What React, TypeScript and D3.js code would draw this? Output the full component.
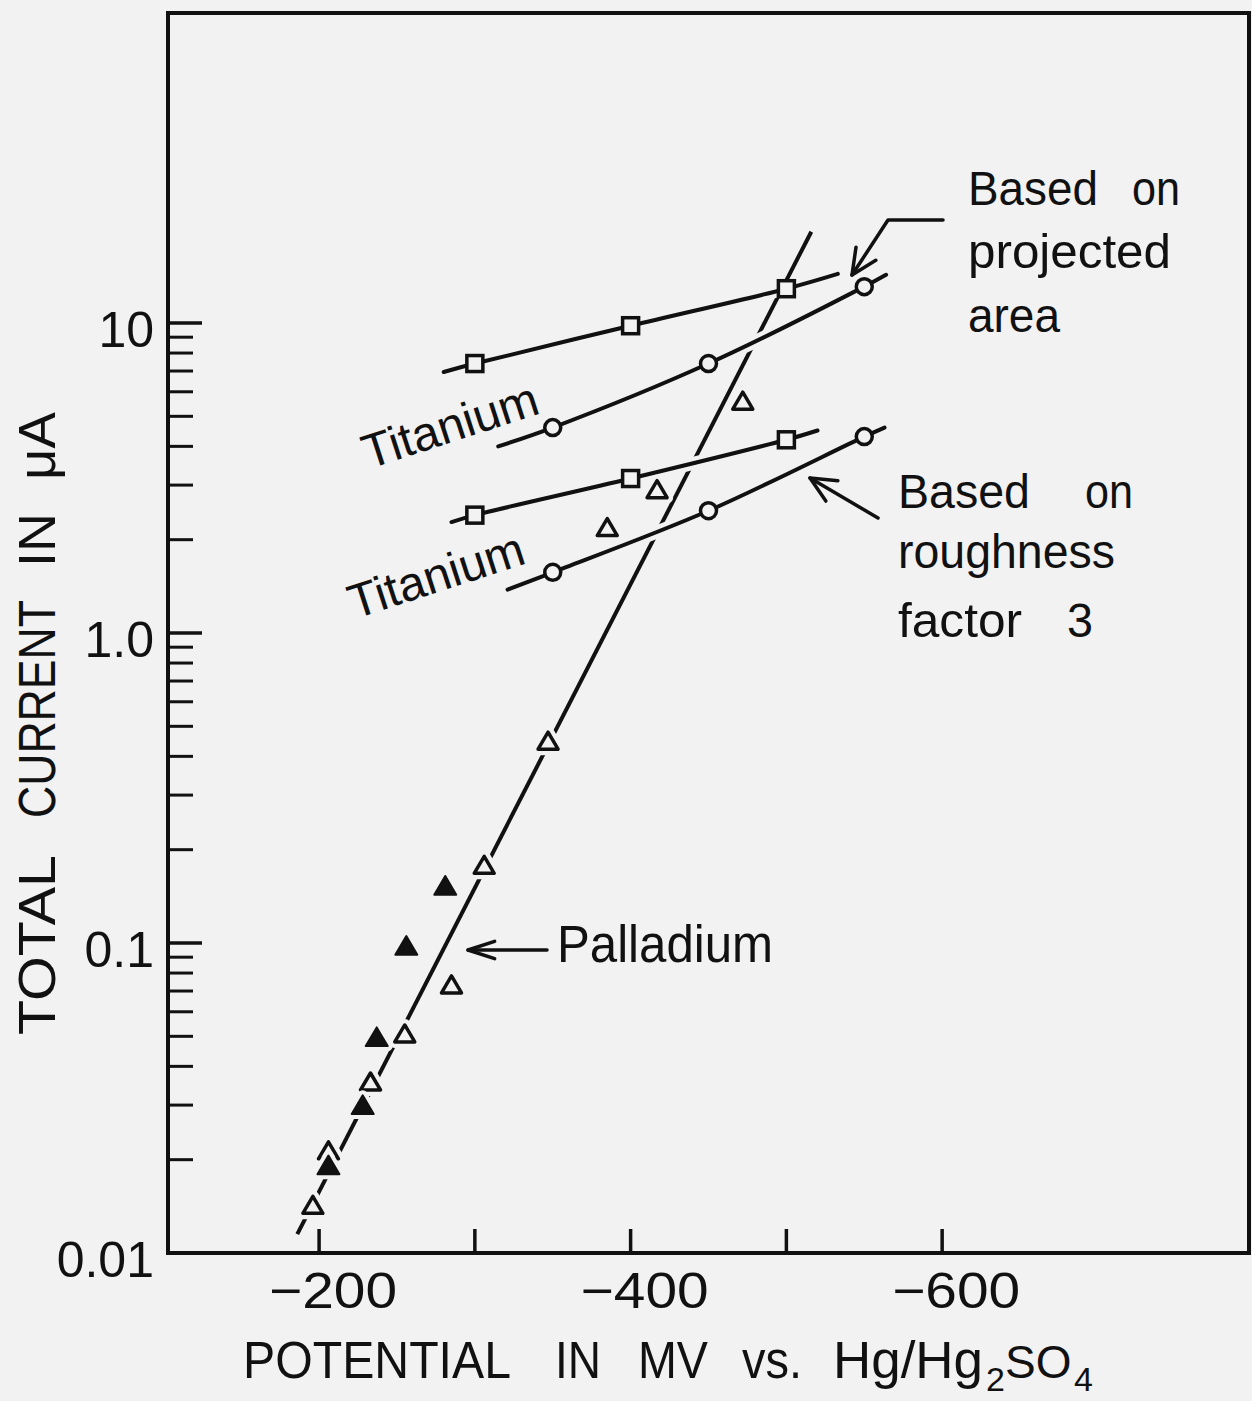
import React from 'react';
import * as d3 from 'd3';

const W = 1252;
const H = 1401;

// axis domains
const xDomain = [-103, -797];
const yDomain = [0.01, 100];

// ticks
const xTickValues = [-200, -300, -400, -500, -600];
const xLabelValues = [-200, -400, -600];
const yMajorValues = [0.01, 0.1, 1, 10];
const yLabelTexts = ['0.01', '0.1', '1.0', '10'];
const yMinorMultipliers = [2, 3, 4, 5, 6, 7, 8, 9];
const yMinorDecades = [0.01, 0.1, 1];

// Titanium – based on projected area
const tiProjSquaresX = [-300, -400, -500];
const tiProjSquaresY = [7.4, 9.8, 12.9];
const tiProjSquaresLine: [number, number][] = [[-280, 6.95], [-300, 7.4], [-400, 9.8], [-500, 12.9], [-533, 14.4]];
const tiProjCirclesX = [-350, -450, -550];
const tiProjCirclesY = [4.6, 7.4, 13.1];
const tiProjCirclesLine: [number, number][] = [[-315, 4.0], [-350, 4.6], [-450, 7.4], [-550, 13.1], [-564, 14.3]];

// Titanium – based on roughness factor 3
const tiRoughSquaresX = [-300, -400, -500];
const tiRoughSquaresY = [2.4, 3.15, 4.2];
const tiRoughSquaresLine: [number, number][] = [[-285, 2.28], [-300, 2.4], [-400, 3.15], [-500, 4.2], [-520, 4.5]];
const tiRoughCirclesX = [-350, -450, -550];
const tiRoughCirclesY = [1.57, 2.48, 4.3];
const tiRoughCirclesLine: [number, number][] = [[-321, 1.38], [-350, 1.57], [-450, 2.48], [-550, 4.3], [-563, 4.6]];

// Palladium
const pdOpenX = [-196, -206, -233, -255, -285, -306, -347, -385, -417, -472];
const pdOpenY = [0.014, 0.021, 0.035, 0.05, 0.072, 0.175, 0.44, 2.15, 2.85, 5.5];
const pdFilledX = [-206, -228, -237, -256, -281];
const pdFilledY = [0.0188, 0.0294, 0.0487, 0.096, 0.15];
const pdLine: [number, number][] = [[-186, 0.0115], [-516, 19.7]];

const BG = '#f2f2f2';
const INK = '#111';
const FONT = '"Liberation Sans", Arial, sans-serif';

export default function App() {
  const x = d3.scaleLinear().domain(xDomain).range([168, 1249]);
  const y = d3.scaleLog().domain(yDomain).range([1253, 13]);
  const left = 168, right = 1249, top = 13, bottom = 1253;

  const lineGen = d3
    .line<[number, number]>()
    .x((d) => x(d[0]))
    .y((d) => y(d[1]));

  const tiLines = [tiProjSquaresLine, tiProjCirclesLine, tiRoughSquaresLine, tiRoughCirclesLine];
  const squares = [
    ...tiProjSquaresX.map((v, i) => [v, tiProjSquaresY[i]]),
    ...tiRoughSquaresX.map((v, i) => [v, tiRoughSquaresY[i]]),
  ];
  const circles = [
    ...tiProjCirclesX.map((v, i) => [v, tiProjCirclesY[i]]),
    ...tiRoughCirclesX.map((v, i) => [v, tiRoughCirclesY[i]]),
  ];

  const tri = (s: number) => {
    const h = s * 0.85;
    return `M0,${-h * 2 / 3}L${s / 2},${h / 3}L${-s / 2},${h / 3}Z`;
  };

  const minorTicks: number[] = [];
  yMinorDecades.forEach((d) => yMinorMultipliers.forEach((m) => minorTicks.push(d * m)));

  const arrowHead = (tx: number, ty: number, fx: number, fy: number, len = 28, ang = 25) => {
    const dx = fx - tx, dy = fy - ty;
    const n = Math.hypot(dx, dy);
    const ux = dx / n, uy = dy / n;
    const a = (ang * Math.PI) / 180;
    const r1 = [ux * Math.cos(a) - uy * Math.sin(a), ux * Math.sin(a) + uy * Math.cos(a)];
    const r2 = [ux * Math.cos(-a) - uy * Math.sin(-a), ux * Math.sin(-a) + uy * Math.cos(-a)];
    return `M${tx + r1[0] * len},${ty + r1[1] * len}L${tx},${ty}L${tx + r2[0] * len},${ty + r2[1] * len}`;
  };

  const yTitleWords = ['TOTAL', 'CURRENT', 'IN', 'μA'];
  const yTitleStarts = [1035, 818, 567, 480];
  const yTitleLens = [180, 218, 54, 68];

  const pdPath = lineGen.curve(d3.curveLinear)(pdLine) || '';
  const tiPaths = tiLines.map((l) => lineGen.curve(d3.curveCatmullRom.alpha(0.5))(l) || '');

  return (
    <svg width={W} height={H} style={{ position: 'absolute', left: 0, top: 0 }} fontFamily={FONT}>
      <rect x={0} y={0} width={W} height={H} fill={BG} />

      {/* frame */}
      <rect x={left} y={top} width={right - left} height={bottom - top} fill="none" stroke={INK} strokeWidth={4} />

      {/* x ticks */}
      {xTickValues.map((v) => (
        <line key={v} x1={x(v)} x2={x(v)} y1={bottom} y2={bottom - 24} stroke={INK} strokeWidth={3.5} />
      ))}
      {xLabelValues.map((v) => (
        <text key={v} x={x(v) + 14} y={1308} fontSize={50} textAnchor="middle" fill={INK} textLength={128} lengthAdjust="spacingAndGlyphs">
          {'−' + Math.abs(v)}
        </text>
      ))}

      {/* y ticks */}
      {yMajorValues.map((v) => (
        <line key={v} x1={left} x2={left + 34} y1={y(v)} y2={y(v)} stroke={INK} strokeWidth={3.5} />
      ))}
      {minorTicks.map((v) => (
        <line key={v} x1={left} x2={left + 25} y1={y(v)} y2={y(v)} stroke={INK} strokeWidth={3} />
      ))}
      {yMajorValues.map((v, i) => (
        <text key={v} x={154} y={y(v) + 24} fontSize={50} textAnchor="end" fill={INK}>
          {yLabelTexts[i]}
        </text>
      ))}

      {/* axis titles */}
      <g transform="translate(55,0) rotate(-90)">
        {yTitleWords.map((w, i) => (
          <text key={w} x={-yTitleStarts[i]} y={0} fontSize={51} fill={INK} textLength={yTitleLens[i]} lengthAdjust="spacingAndGlyphs">
            {w}
          </text>
        ))}
      </g>
      <g fontSize={51} fill={INK}>
        <text x={243} y={1378} textLength={268} lengthAdjust="spacingAndGlyphs">POTENTIAL</text>
        <text x={555} y={1378} textLength={46} lengthAdjust="spacingAndGlyphs">IN</text>
        <text x={638} y={1378} textLength={70} lengthAdjust="spacingAndGlyphs">MV</text>
        <text x={742} y={1378} textLength={60} lengthAdjust="spacingAndGlyphs">vs.</text>
        <text y={1378}>
          <tspan x={833} textLength={150} lengthAdjust="spacingAndGlyphs">Hg/Hg</tspan>
          <tspan x={986} dy={13} fontSize={34}>2</tspan>
          <tspan x={1005} dy={-13} fontSize={46}>SO</tspan>
          <tspan x={1074} dy={13} fontSize={34}>4</tspan>
        </text>
      </g>

      {/* Palladium line */}
      <path d={pdPath} fill="none" stroke={INK} strokeWidth={4} />

      {/* Titanium lines with halo (breaks the Pd line at crossings) */}
      {tiPaths.map((p, i) => (
        <path key={'h' + i} d={p} fill="none" stroke={BG} strokeWidth={13} />
      ))}
      {tiPaths.map((p, i) => (
        <path key={'l' + i} d={p} fill="none" stroke={INK} strokeWidth={4} strokeLinecap="round" />
      ))}

      {/* Titanium markers */}
      {squares.map((d, i) => (
        <rect key={'s' + i} x={x(d[0]) - 8} y={y(d[1]) - 8} width={16} height={16} fill={BG} stroke={INK} strokeWidth={3.5} />
      ))}
      {circles.map((d, i) => (
        <circle key={'c' + i} cx={x(d[0])} cy={y(d[1])} r={8} fill={BG} stroke={INK} strokeWidth={3.5} />
      ))}

      {/* Palladium markers */}
      {pdOpenX.map((v, i) => (
        <g key={'o' + i} transform={`translate(${x(v)},${y(pdOpenY[i])})`}>
          <path d={tri(20)} fill={BG} stroke={BG} strokeWidth={12} strokeLinejoin="round" />
          <path d={tri(20)} fill={BG} stroke={INK} strokeWidth={3.5} strokeLinejoin="round" />
        </g>
      ))}
      {pdFilledX.map((v, i) => (
        <g key={'f' + i} transform={`translate(${x(v)},${y(pdFilledY[i])})`}>
          <path d={tri(22)} fill={BG} stroke={BG} strokeWidth={10} strokeLinejoin="round" />
          <path d={tri(22)} fill={INK} stroke={INK} strokeWidth={2} strokeLinejoin="round" />
        </g>
      ))}

      {/* Titanium labels */}
      <text x={450} y={425} dy="0.35em" fontSize={48} textAnchor="middle" fill={INK} transform="rotate(-18,450,425)">
        Titanium
      </text>
      <text x={436} y={575} dy="0.35em" fontSize={48} textAnchor="middle" fill={INK} transform="rotate(-18,436,575)">
        Titanium
      </text>

      {/* annotations */}
      <g fontSize={48} fill={INK}>
        <text x={968} y={205} textLength={130} lengthAdjust="spacingAndGlyphs">Based</text>
        <text x={1132} y={205} textLength={48} lengthAdjust="spacingAndGlyphs">on</text>
        <text x={968} y={268} textLength={203} lengthAdjust="spacingAndGlyphs">projected</text>
        <text x={968} y={332} textLength={92} lengthAdjust="spacingAndGlyphs">area</text>

        <text x={898} y={508} textLength={132} lengthAdjust="spacingAndGlyphs">Based</text>
        <text x={1085} y={508} textLength={48} lengthAdjust="spacingAndGlyphs">on</text>
        <text x={898} y={568} textLength={217} lengthAdjust="spacingAndGlyphs">roughness</text>
        <text x={898} y={637} textLength={124} lengthAdjust="spacingAndGlyphs">factor</text>
        <text x={1067} y={637} textLength={26} lengthAdjust="spacingAndGlyphs">3</text>

        <text x={557} y={962} fontSize={51} textLength={216} lengthAdjust="spacingAndGlyphs">Palladium</text>
      </g>

      {/* arrows */}
      <g fill="none" stroke={INK} strokeWidth={3.5} strokeLinecap="round" strokeLinejoin="round">
        <path d="M943,220L888,220L852,275" />
        <path d={arrowHead(852, 275, 888, 220)} />
        <path d="M878,518L810,478" />
        <path d={arrowHead(810, 478, 878, 518)} />
        <path d="M547,950L468,950" />
        <path d={arrowHead(468, 950, 547, 950, 28, 18)} />
      </g>
    </svg>
  );
}
